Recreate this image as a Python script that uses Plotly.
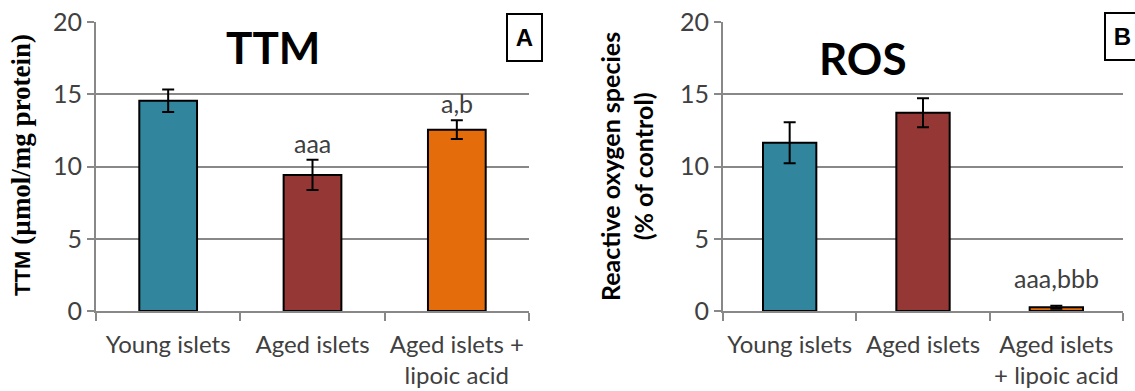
import plotly.graph_objects as go

# ---- data ----
groups_a = ["Young islets", "Aged islets", "Aged islets +<br>lipoic acid"]
groups_b = ["Young islets", "Aged islets", "Aged islets<br>+ lipoic acid"]
ttm_values = [14.55, 9.42, 12.55]
ttm_errors = [0.78, 1.05, 0.65]
ros_values = [11.65, 13.72, 0.26]
ros_errors = [1.42, 1.0, 0.1]
ttm_sig = ["", "aaa", "a,b"]
ros_sig = ["", "", "aaa,bbb"]
y_ticks = [0, 5, 10, 15, 20]

bar_colors = ["#31859C", "#953735", "#E46C0A"]
GRID = "#888888"
TXT = "#404040"
FONT = "Lato, 'Open Sans', sans-serif"
W, H = 1135, 391


def px(x):
    return x / W


def py(y):
    return 1 - y / H


fig = go.Figure()
xs = [0, 1, 2]
fig.add_trace(go.Bar(x=xs, y=ttm_values, width=0.4, marker=dict(color=bar_colors, line=dict(color="black", width=2)),
                     error_y=dict(type="data", array=ttm_errors, visible=True, color="black", thickness=2, width=6),
                     xaxis="x", yaxis="y", showlegend=False, hoverinfo="skip"))
fig.add_trace(go.Bar(x=xs, y=ros_values, width=0.4, marker=dict(color=bar_colors, line=dict(color="black", width=2)),
                     error_y=dict(type="data", array=ros_errors, visible=True, color="black", thickness=2, width=6),
                     xaxis="x2", yaxis="y2", showlegend=False, hoverinfo="skip"))


def xaxis(domain, labels, anchor):
    return dict(domain=domain, anchor=anchor, range=[-0.5, 2.5], tickmode="array", tickvals=xs, ticktext=labels,
                ticks="", showgrid=False, zeroline=False, showline=True, linecolor=GRID, linewidth=2,
                automargin=False, ticklabelstandoff=11, ticklabeloverflow="allow",
                tickfont=dict(family=FONT, size=24, color=TXT),
                minor=dict(tickmode="array", tickvals=[-0.5, 0.5, 1.5, 2.5], ticks="outside", ticklen=8,
                           tickcolor=GRID, tickwidth=2, showgrid=False))


def yaxis(domain, anchor):
    return dict(domain=domain, anchor=anchor, range=[0, 20], tickmode="array", tickvals=y_ticks,
                ticks="outside", ticklen=7, tickcolor=GRID, tickwidth=2, showgrid=True, gridcolor=GRID, gridwidth=2,
                zeroline=False, showline=True, linecolor=GRID, linewidth=2, automargin=False,
                ticklabeloverflow="allow",
                tickfont=dict(family=FONT, size=25, color=TXT))


ydom = [py(311), py(22)]
fig.update_layout(
    width=W, height=H, margin=dict(l=0, r=0, t=0, b=0, autoexpand=False), plot_bgcolor="white", paper_bgcolor="white",
    xaxis=xaxis([px(96), px(529)], groups_a, "y"),
    yaxis=yaxis(ydom, "x"),
    xaxis2=xaxis([px(723), px(1123)], groups_b, "y2"),
    yaxis2=yaxis(ydom, "x2"),
)

anns = []
# significance labels
for i, (v, e, s) in enumerate(zip(ttm_values, ttm_errors, ttm_sig)):
    if s:
        anns.append(dict(x=i, y=v + e, xref="x", yref="y", text=s, showarrow=False, xanchor="center",
                         yanchor="bottom", yshift=0, font=dict(family=FONT, size=25, color=TXT)))
for i, (v, e, s) in enumerate(zip(ros_values, ros_errors, ros_sig)):
    if s:
        anns.append(dict(x=i, y=v + e, xref="x2", yref="y2", text=s, showarrow=False, xanchor="center",
                         yanchor="bottom", yshift=11, font=dict(family=FONT, size=25, color=TXT)))
# panel titles
anns.append(dict(x=px(273), y=py(47), xref="paper", yref="paper", text="<b>TTM</b>", showarrow=False,
                 xanchor="center", yanchor="middle", font=dict(family=FONT, size=44, color="black")))
anns.append(dict(x=px(863), y=py(58), xref="paper", yref="paper", text="<b>ROS</b>", showarrow=False,
                 xanchor="center", yanchor="middle", font=dict(family=FONT, size=44, color="black")))
# panel letters
for letter, x0, y0 in [("A", 506, 13), ("B", 1104, 12)]:
    anns.append(dict(x=px(x0), y=py(y0), xref="paper", yref="paper", xanchor="left", yanchor="top",
                     text="<b>%s</b>" % letter, showarrow=False, width=33, height=45, bgcolor="white",
                     bordercolor="black", borderwidth=2, borderpad=0,
                     font=dict(family="Liberation Sans, Arial, sans-serif", size=24, color="black")))
# y-axis titles
anns.append(dict(x=px(21), y=py(165), xref="paper", yref="paper", textangle=-90, showarrow=False,
                 xanchor="center", yanchor="middle",
                 text="<b>TTM </b><span style=\"font-family:'Liberation Serif',serif;font-size:27px\"><b>(µmol/mg protein)</b></span>",
                 font=dict(family="Liberation Sans, Arial, sans-serif", size=22, color="black")))
anns.append(dict(x=px(626), y=py(167), xref="paper", yref="paper", textangle=-90, showarrow=False,
                 xanchor="center", yanchor="middle",
                 text="<b>Reactive oxygen species<br>(% of control)</b>",
                 font=dict(family=FONT, size=25, color="black")))
fig.update_layout(annotations=anns)

# remove the default 8px page margin so the figure fills the window exactly; hide the mode bar
fig.write_html("out.html", config={"displayModeBar": False},
               post_script="document.body.style.margin='0';document.body.style.overflow='hidden';")
